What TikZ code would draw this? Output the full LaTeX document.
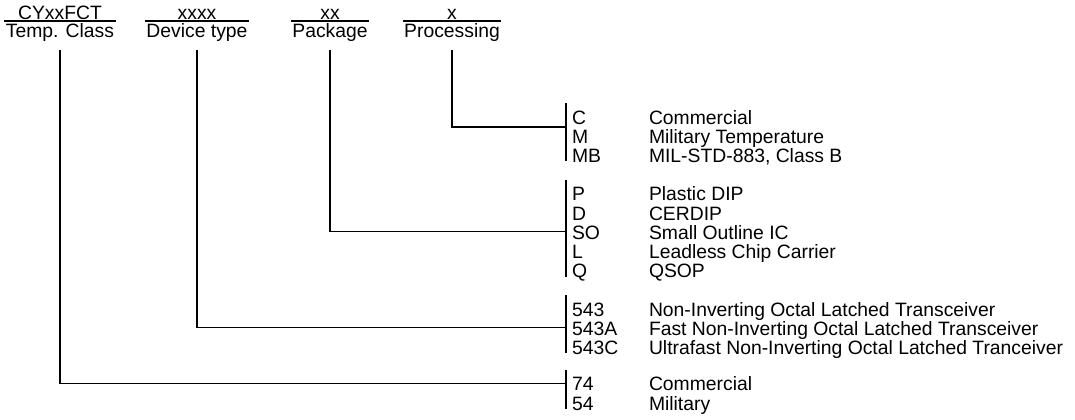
\documentclass[tikz,border=0pt]{standalone}
\usepackage{fontspec}
\setmainfont{Liberation Sans}
\usetikzlibrary{positioning,calc}
\newcommand{\ordfont}{\fontsize{14.5}{14.5}\selectfont}

\begin{document}
\begin{tikzpicture}[x=0.75pt,y=-0.75pt,node distance=0pt,
  hdlabel/.style={anchor=base,inner xsep=1.1pt,inner ysep=1.2pt,outer sep=0pt,text height=10.8pt,text depth=3.6pt,font=\ordfont},
  hdcode/.style={inner xsep=0pt,inner ysep=1.2pt,outer sep=0pt,text depth=0pt,font=\ordfont},
  code/.style={inner sep=0pt,outer sep=0pt,text width=57.75pt,align=left,text height=10.8pt,text depth=3.6pt,font=\ordfont},
  desc/.style={inner sep=0pt,outer sep=0pt,text height=10.8pt,text depth=3.6pt,font=\ordfont},
  wire/.style={line width=0.9pt}]
\useasboundingbox (0,0) rectangle (1075,419);
% header fields
\node[hdlabel] (tc) at (60,37) {Temp. Class};
\node[hdlabel] (dt) at (197,37) {Device type};
\node[hdlabel] (pk) at (330,37) {Package};
\node[hdlabel] (pr) at (452,37) {Processing};
\node[hdcode,above=of tc] (tcx) {CYxxFCT};
\node[hdcode,above=of dt] (dtx) {xxxx};
\node[hdcode,above=of pk] (pkx) {xx};
\node[hdcode,above=of pr] (prx) {x};
\draw[line width=0.8pt] (tc.north west) -- (tc.north east);
\draw[line width=0.8pt] (dt.north west) -- (dt.north east);
\draw[line width=0.8pt] (pk.north west) -- (pk.north east);
\draw[line width=0.8pt] (pr.north west) -- (pr.north east);
% processing options
\node[code,anchor=base west] (cC) at (572,124) {C};
\node[desc,right=of cC] (dC) {Commercial};
\node[code,below=of cC] (cM) {M};
\node[desc,right=of cM] (dM) {Military Temperature};
\node[code,below=of cM] (cMB) {MB};
\node[desc,right=of cMB] (dMB) {MIL-STD-883, Class B};
% package options
\node[code,below=14.4pt of cMB] (cP) {P};
\node[desc,right=of cP] (dP) {Plastic DIP};
\node[code,below=of cP] (cD) {D};
\node[desc,right=of cD] (dD) {CERDIP};
\node[code,below=of cD] (cSO) {SO};
\node[desc,right=of cSO] (dSO) {Small Outline IC};
\node[code,below=of cSO] (cL) {L};
\node[desc,right=of cL] (dL) {Leadless Chip Carrier};
\node[code,below=of cL] (cQ) {Q};
\node[desc,right=of cQ] (dQ) {QSOP};
% device types
\node[code,below=14.4pt of cQ] (c543) {543};
\node[desc,right=of c543] (d543) {Non-Inverting Octal Latched Transceiver};
\node[code,below=of c543] (c543A) {543A};
\node[desc,right=of c543A] (d543A) {Fast Non-Inverting Octal Latched Transceiver};
\node[code,below=of c543A] (c543C) {543C};
\node[desc,right=of c543C] (d543C) {Ultrafast Non-Inverting Octal Latched Tranceiver};
% temperature classes
\node[code,below=13pt of c543C] (c74) {74};
\node[desc,right=of c74] (d74) {Commercial};
\node[code,below=of c74] (c54) {54};
\node[desc,right=of c54] (d54) {Military};
% bars beside each option list
\draw[wire] ([shift={(-6,-6.6)}]cC.north west) -- ([shift={(-6,-5.8)}]cMB.south west);
\draw[wire] ([shift={(-6,-6.6)}]cP.north west) -- ([shift={(-6,-5.8)}]cQ.south west);
\draw[wire] ([shift={(-6,-6.6)}]c543.north west) -- ([shift={(-6,-5.8)}]c543C.south west);
\draw[wire] ([shift={(-6,-6.6)}]c74.north west) -- ([shift={(-6,-5.8)}]c54.south west);
\coordinate (jpr) at ([shift={(-6,-1.8)}]cC.south west);
\coordinate (jpk) at ([shift={(-6,-3)}]cSO.west);
\coordinate (jdt) at ([shift={(-6,-3)}]c543A.west);
\coordinate (jtc) at ([shift={(-6,-3)}]c74.west);
% connectors
\draw[wire] ([yshift=-5pt]pr.south) |- (jpr);
\draw[wire] ([yshift=-5pt]pk.south) |- (jpk);
\draw[wire] ([yshift=-5pt]dt.south) |- (jdt);
\draw[wire] ([yshift=-5pt]tc.south) |- (jtc);
\end{tikzpicture}
\end{document}
